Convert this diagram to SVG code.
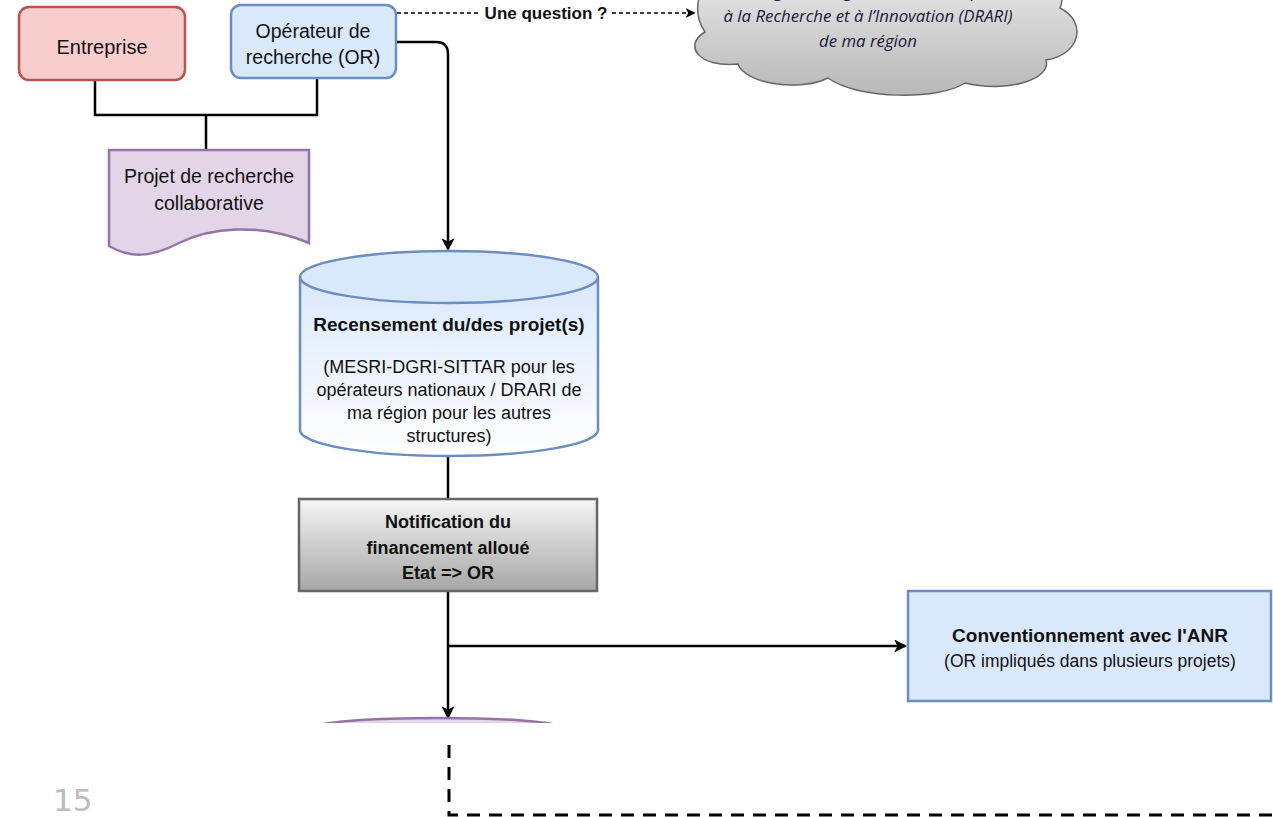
<svg xmlns="http://www.w3.org/2000/svg" width="1273" height="817" viewBox="0 0 1273 817">
<defs>
<style>
.t{font-family:"Liberation Sans",Arial,sans-serif;fill:#111;text-anchor:middle}
.b{font-weight:bold}
.ln{fill:none;stroke:#000;stroke-width:2.5}
.cl{font-family:"Open Sans","Liberation Sans",sans-serif;font-style:italic;fill:#1a1a3a;text-anchor:middle;font-size:16.8px}
</style>
<marker id="ah" viewBox="0 0 12 12" refX="10" refY="6" markerWidth="10" markerHeight="10" markerUnits="userSpaceOnUse" orient="auto">
<path d="M0,0 L12,6 L0,12 L3,6 Z" fill="#000"/>
</marker>
<marker id="ahs" viewBox="0 0 12 12" refX="10" refY="6" markerWidth="13" markerHeight="13" markerUnits="userSpaceOnUse" orient="auto">
<path d="M0,0 L12,6 L0,12 L3,6 Z" fill="#000"/>
</marker>
<linearGradient id="gCloud" x1="0" y1="0" x2="0" y2="1">
<stop offset="0" stop-color="#e8e8e8"/><stop offset="1" stop-color="#b8b8b8"/>
</linearGradient>
<linearGradient id="gCyl" x1="0" y1="0" x2="0" y2="1">
<stop offset="0" stop-color="#dae8fc"/><stop offset="1" stop-color="#ffffff"/>
</linearGradient>
<linearGradient id="gNot" x1="0" y1="0" x2="0" y2="1">
<stop offset="0" stop-color="#f5f5f5"/><stop offset="1" stop-color="#a6a6a6"/>
</linearGradient>
<clipPath id="clipB"><rect x="0" y="0" width="1273" height="723"/></clipPath>
</defs>
<rect width="1273" height="817" fill="#fff"/>

<g id="connectors">
<path class="ln" d="M95,80 V115 H317 V78"/>
<path class="ln" d="M206,115 V150"/>
<path class="ln" d="M397,42 H436 Q448,42 448,54 V249" marker-end="url(#ahs)"/>
<path class="ln" d="M448,456 V499"/>
<path class="ln" d="M448,591 V717" marker-end="url(#ahs)"/>
<path class="ln" d="M448,646 H905" marker-end="url(#ahs)"/>
<path d="M397,13 H480" fill="none" stroke="#000" stroke-width="1.3" stroke-dasharray="4,3"/>
<path d="M612,13 H694" fill="none" stroke="#000" stroke-width="1.3" stroke-dasharray="4,3" marker-end="url(#ah)"/>
<text class="t b" x="546" y="19" font-size="17">Une question ?</text>
<path d="M449,745 V815 H1273" fill="none" stroke="#000" stroke-width="3" stroke-dasharray="13,9"/>
</g>

<g id="entreprise">
<rect x="19" y="7" width="166" height="73" rx="10" fill="#f8cecc" stroke="#b85450" stroke-width="2.5"/>
<text class="t" x="102" y="54" font-size="20">Entreprise</text>
</g>

<g id="operateur">
<rect x="231" y="5" width="165" height="73" rx="10" fill="#dae8fc" stroke="#6c8ebf" stroke-width="2.5"/>
<text class="t" x="313" y="38" font-size="19.5">Opérateur de</text>
<text class="t" x="313" y="64" font-size="19.5">recherche (OR)</text>
</g>

<g id="projet">
<path d="M109,150 H309 V243 C259,222 209,228 179,243 C150,258 130,258 109,246 Z" fill="#e1d5e7" stroke="#9673a6" stroke-width="2.5"/>
<text class="t" x="209" y="183" font-size="19.5">Projet de recherche</text>
<text class="t" x="209" y="210" font-size="19.5">collaborative</text>
</g>

<g id="drari">
<path d="M705,32 C683,45 698,68 738,64 C745,84 800,92 828,78 C858,100 940,100 965,83 C1005,93 1052,80 1046,60 C1080,55 1088,22 1060,8 C1070,-15 1040,-30 1000,-28 L720,-28 C700,-20 690,10 705,32 Z" fill="url(#gCloud)" stroke="#666" stroke-width="1.5"/>
<text class="cl" x="868" y="-3">Délégation Régionale Académique</text>
<text class="cl" x="868" y="22">à la Recherche et à l’Innovation (DRARI)</text>
<text class="cl" x="868" y="47">de ma région</text>
</g>

<g id="recensement">
<path d="M300,277 V430 A149,26 0 0 0 598,430 V277" fill="url(#gCyl)" stroke="#6c8ebf" stroke-width="2.5"/>
<ellipse cx="449" cy="277" rx="149" ry="26" fill="#dae8fc" stroke="#6c8ebf" stroke-width="2.5"/>
<text class="t b" x="449" y="331" font-size="19">Recensement du/des projet(s)</text>
<text class="t" x="449" y="373" font-size="18">(MESRI-DGRI-SITTAR pour les</text>
<text class="t" x="449" y="396" font-size="18">opérateurs nationaux / DRARI de</text>
<text class="t" x="449" y="419" font-size="18">ma région pour les autres</text>
<text class="t" x="449" y="442" font-size="18">structures)</text>
</g>

<g id="notification">
<rect x="299" y="499" width="298" height="92" fill="url(#gNot)" stroke="#666" stroke-width="2.5"/>
<text class="t b" x="448" y="528" font-size="18">Notification du</text>
<text class="t b" x="448" y="554" font-size="18">financement alloué</text>
<text class="t b" x="448" y="579" font-size="18">Etat =&gt; OR</text>
</g>

<g id="anr">
<rect x="908" y="591" width="363" height="110" fill="#dae8fc" stroke="#6c8ebf" stroke-width="2.5"/>
<text class="t b" x="1090" y="642" font-size="19">Conventionnement avec l'ANR</text>
<text class="t" x="1090" y="667" font-size="17.5">(OR impliqués dans plusieurs projets)</text>
</g>

<g id="suite" clip-path="url(#clipB)">
<ellipse cx="438" cy="727" rx="122" ry="9" fill="#e1d5e7" stroke="#9673a6" stroke-width="2.5"/>
</g>
<rect x="0" y="723" width="1273" height="20" fill="#fff"/>

<text x="53" y="811" font-family="DejaVu Sans,Verdana,sans-serif" font-size="31" fill="#bdbdbd">15</text>
</svg>
